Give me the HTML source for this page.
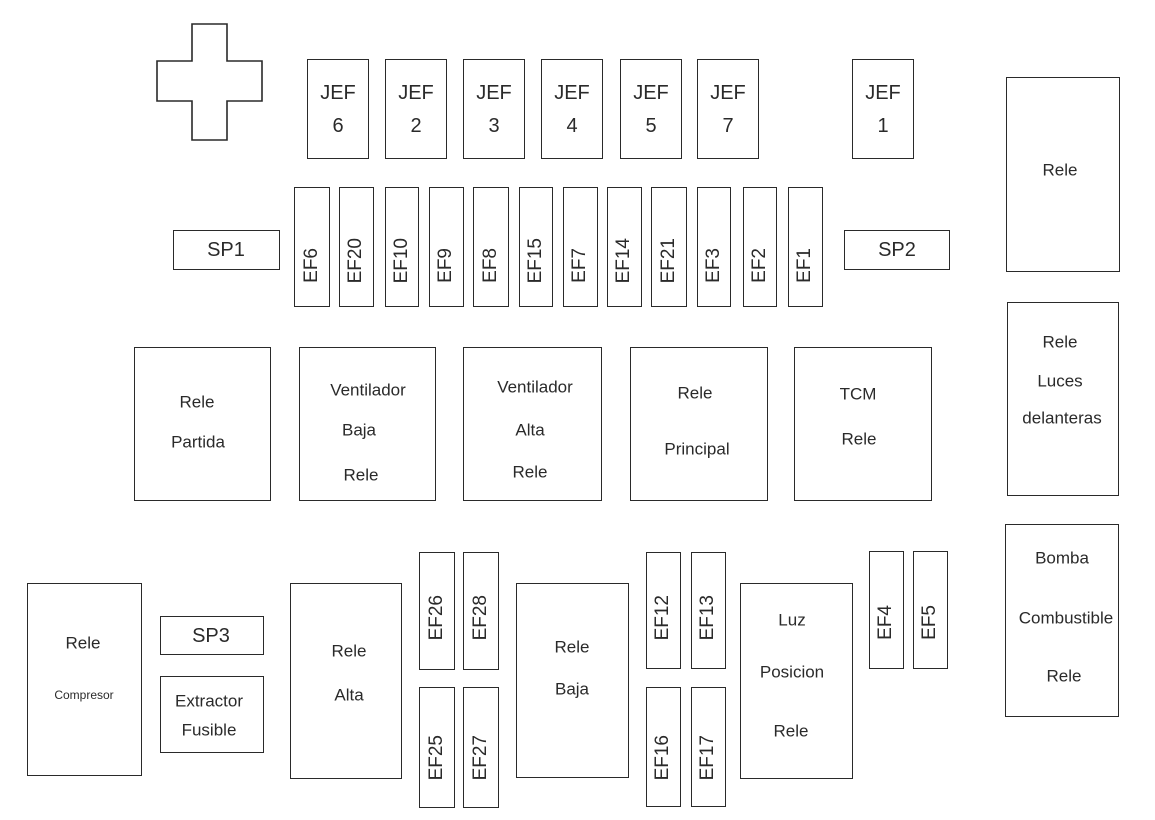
<!DOCTYPE html>
<html><head><meta charset="utf-8"><style>
body{margin:0;background:#fff;}
#c{position:relative;width:1155px;height:820px;overflow:hidden;background:#fff;}
.b{position:absolute;border:1.6px solid #2a2a2a;box-sizing:border-box;}
.t{position:absolute;transform:translate(-50%,-50%);white-space:nowrap;color:#2a2a2a;font-family:"Liberation Sans",sans-serif;font-size:17px;line-height:1;}
.a{font-family:"Liberation Sans",sans-serif;font-size:20px;}
.r{position:absolute;font-family:"Liberation Sans",sans-serif;font-size:19px;color:#2a2a2a;writing-mode:vertical-rl;transform:rotate(180deg);line-height:1;}
</style></head><body><div id="c">
<svg style="position:absolute;left:0;top:0" width="1155" height="820"><polygon points="192,24 227,24 227,61 262,61 262,101 227,101 227,140 192,140 192,101 157,101 157,61 192,61" fill="none" stroke="#2a2a2a" stroke-width="1.6"/></svg>

<!-- JEF -->
<div class="b" style="left:307px;top:59px;width:62px;height:100px"></div><div class="t a" style="left:338px;top:93px">JEF</div><div class="t a" style="left:338px;top:126px">6</div>
<div class="b" style="left:385px;top:59px;width:62px;height:100px"></div><div class="t a" style="left:416px;top:93px">JEF</div><div class="t a" style="left:416px;top:126px">2</div>
<div class="b" style="left:463px;top:59px;width:62px;height:100px"></div><div class="t a" style="left:494px;top:93px">JEF</div><div class="t a" style="left:494px;top:126px">3</div>
<div class="b" style="left:541px;top:59px;width:62px;height:100px"></div><div class="t a" style="left:572px;top:93px">JEF</div><div class="t a" style="left:572px;top:126px">4</div>
<div class="b" style="left:620px;top:59px;width:62px;height:100px"></div><div class="t a" style="left:651px;top:93px">JEF</div><div class="t a" style="left:651px;top:126px">5</div>
<div class="b" style="left:697px;top:59px;width:62px;height:100px"></div><div class="t a" style="left:728px;top:93px">JEF</div><div class="t a" style="left:728px;top:126px">7</div>
<div class="b" style="left:852px;top:59px;width:62px;height:100px"></div><div class="t a" style="left:883px;top:93px">JEF</div><div class="t a" style="left:883px;top:126px">1</div>

<!-- SP -->
<div class="b" style="left:173px;top:230px;width:107px;height:40px"></div><div class="t a" style="left:226px;top:250px">SP1</div>
<div class="b" style="left:844px;top:230px;width:106px;height:40px"></div><div class="t a" style="left:897px;top:250px">SP2</div>

<!-- EF top row -->
<div class="b" style="left:294px;top:187px;width:36px;height:120px"></div><div class="r" style="left:302px;bottom:537px">EF6</div>
<div class="b" style="left:339px;top:187px;width:35px;height:120px"></div><div class="r" style="left:346px;bottom:537px">EF20</div>
<div class="b" style="left:385px;top:187px;width:34px;height:120px"></div><div class="r" style="left:392px;bottom:537px">EF10</div>
<div class="b" style="left:429px;top:187px;width:35px;height:120px"></div><div class="r" style="left:436px;bottom:537px">EF9</div>
<div class="b" style="left:473px;top:187px;width:36px;height:120px"></div><div class="r" style="left:481px;bottom:537px">EF8</div>
<div class="b" style="left:519px;top:187px;width:34px;height:120px"></div><div class="r" style="left:526px;bottom:537px">EF15</div>
<div class="b" style="left:563px;top:187px;width:35px;height:120px"></div><div class="r" style="left:570px;bottom:537px">EF7</div>
<div class="b" style="left:607px;top:187px;width:35px;height:120px"></div><div class="r" style="left:614px;bottom:537px">EF14</div>
<div class="b" style="left:651px;top:187px;width:36px;height:120px"></div><div class="r" style="left:659px;bottom:537px">EF21</div>
<div class="b" style="left:697px;top:187px;width:34px;height:120px"></div><div class="r" style="left:704px;bottom:537px">EF3</div>
<div class="b" style="left:743px;top:187px;width:34px;height:120px"></div><div class="r" style="left:750px;bottom:537px">EF2</div>
<div class="b" style="left:788px;top:187px;width:35px;height:120px"></div><div class="r" style="left:795px;bottom:537px">EF1</div>

<!-- right column -->
<div class="b" style="left:1006px;top:77px;width:114px;height:195px"></div><div class="t" style="left:1060px;top:170px">Rele</div>
<div class="b" style="left:1007px;top:302px;width:112px;height:194px"></div>
<div class="t" style="left:1060px;top:342px">Rele</div><div class="t" style="left:1060px;top:381px">Luces</div><div class="t" style="left:1062px;top:418px;background:#fff">delanteras</div>
<div class="b" style="left:1005px;top:524px;width:114px;height:193px"></div>
<div class="t" style="left:1062px;top:558px;background:#fff;padding:0 2px">Bomba</div><div class="t" style="left:1066px;top:618px;background:#fff;padding:0 2px">Combustible</div><div class="t" style="left:1064px;top:676px">Rele</div>

<!-- row 3 -->
<div class="b" style="left:134px;top:347px;width:137px;height:154px"></div><div class="t" style="left:197px;top:402px">Rele</div><div class="t" style="left:198px;top:442px">Partida</div>
<div class="b" style="left:299px;top:347px;width:137px;height:154px"></div><div class="t" style="left:368px;top:390px">Ventilador</div><div class="t" style="left:359px;top:430px">Baja</div><div class="t" style="left:361px;top:475px">Rele</div>
<div class="b" style="left:463px;top:347px;width:139px;height:154px"></div><div class="t" style="left:535px;top:387px">Ventilador</div><div class="t" style="left:530px;top:430px">Alta</div><div class="t" style="left:530px;top:472px">Rele</div>
<div class="b" style="left:630px;top:347px;width:138px;height:154px"></div><div class="t" style="left:695px;top:393px">Rele</div><div class="t" style="left:697px;top:449px">Principal</div>
<div class="b" style="left:794px;top:347px;width:138px;height:154px"></div><div class="t" style="left:858px;top:394px">TCM</div><div class="t" style="left:859px;top:439px">Rele</div>

<!-- bottom -->
<div class="b" style="left:27px;top:583px;width:115px;height:193px"></div><div class="t" style="left:83px;top:643px">Rele</div><div class="t" style="left:84px;top:695px;font-size:12px">Compresor</div>
<div class="b" style="left:160px;top:616px;width:104px;height:39px"></div><div class="t a" style="left:211px;top:636px">SP3</div>
<div class="b" style="left:160px;top:676px;width:104px;height:77px"></div><div class="t" style="left:209px;top:701px">Extractor</div><div class="t" style="left:209px;top:730px">Fusible</div>
<div class="b" style="left:290px;top:583px;width:112px;height:196px"></div><div class="t" style="left:349px;top:651px">Rele</div><div class="t" style="left:349px;top:695px">Alta</div>
<div class="b" style="left:419px;top:552px;width:36px;height:118px"></div><div class="r" style="left:427px;bottom:180px">EF26</div>
<div class="b" style="left:463px;top:552px;width:36px;height:118px"></div><div class="r" style="left:471px;bottom:180px">EF28</div>
<div class="b" style="left:419px;top:687px;width:36px;height:121px"></div><div class="r" style="left:427px;bottom:40px">EF25</div>
<div class="b" style="left:463px;top:687px;width:36px;height:121px"></div><div class="r" style="left:471px;bottom:40px">EF27</div>
<div class="b" style="left:516px;top:583px;width:113px;height:195px"></div><div class="t" style="left:572px;top:647px">Rele</div><div class="t" style="left:572px;top:689px">Baja</div>
<div class="b" style="left:646px;top:552px;width:35px;height:117px"></div><div class="r" style="left:653px;bottom:180px">EF12</div>
<div class="b" style="left:691px;top:552px;width:35px;height:117px"></div><div class="r" style="left:698px;bottom:180px">EF13</div>
<div class="b" style="left:646px;top:687px;width:35px;height:120px"></div><div class="r" style="left:653px;bottom:40px">EF16</div>
<div class="b" style="left:691px;top:687px;width:35px;height:120px"></div><div class="r" style="left:698px;bottom:40px">EF17</div>
<div class="b" style="left:740px;top:583px;width:113px;height:196px"></div><div class="t" style="left:792px;top:620px">Luz</div><div class="t" style="left:792px;top:672px">Posicion</div><div class="t" style="left:791px;top:731px">Rele</div>
<div class="b" style="left:869px;top:551px;width:35px;height:118px"></div><div class="r" style="left:876px;bottom:180px">EF4</div>
<div class="b" style="left:913px;top:551px;width:35px;height:118px"></div><div class="r" style="left:920px;bottom:180px">EF5</div>
</div></body></html>
